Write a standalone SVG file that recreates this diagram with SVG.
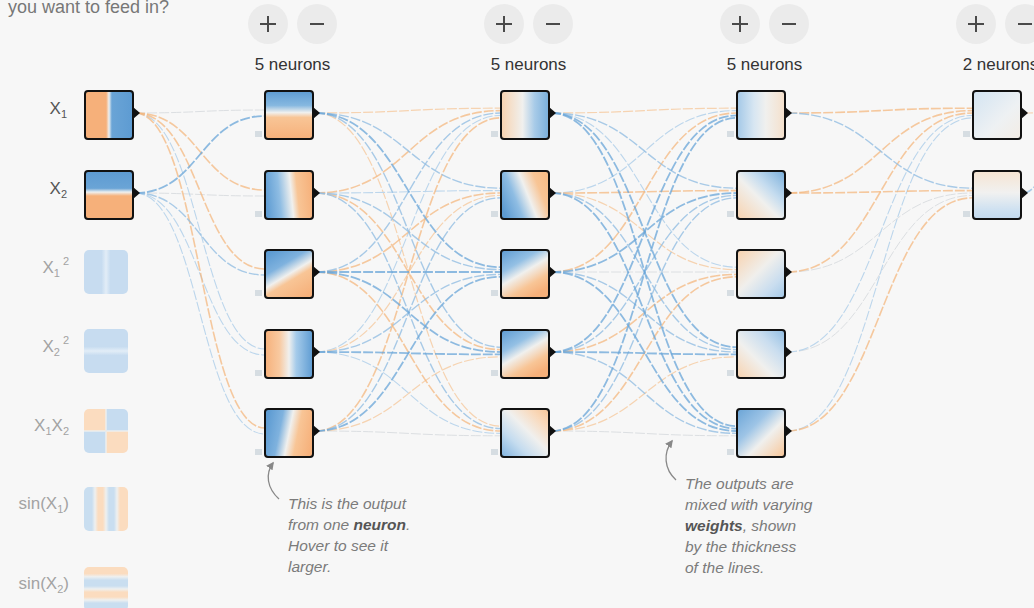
<svg xmlns="http://www.w3.org/2000/svg" width="1034" height="608" viewBox="0 0 1034 608">
<style>
.lk{fill:none;stroke-dasharray:10 2}
.b{stroke:#6aa6d8;stroke-width:1.8;stroke-opacity:.75}
.bm{stroke:#93bee2;stroke-width:1.4;stroke-opacity:.8}
.bl{stroke:#bcd6ec;stroke-width:1.1}
.o{stroke:#f4b57c;stroke-width:1.6;stroke-opacity:.72}
.ol{stroke:#f6d3b1;stroke-width:1.2}
.g{stroke:#dcdfe2;stroke-width:1}
.nd{stroke:#111;stroke-width:2}
.tri{fill:#111}
.bias{fill:#d6dde2}
.btn{fill:#ebebeb}
.sym{stroke:#4a4a4a;stroke-width:2;fill:none}
.hd{font-family:"Liberation Sans",Arial,sans-serif;font-size:17px;fill:#333;text-anchor:middle}
.lab{font-family:"Liberation Sans",Arial,sans-serif;font-size:17px;fill:#555;text-anchor:end}
.dis{fill:#a3a3a3}
.ann{font-family:"Liberation Sans",Arial,sans-serif;font-size:15.5px;font-style:italic;fill:#7b7b7b}
.bw{font-weight:bold;fill:#555}
.arr{fill:none;stroke:#888;stroke-width:1.3}
</style>
<defs>
<marker id="ah" viewBox="0 0 10 10" refX="8" refY="5" markerWidth="6" markerHeight="6" orient="auto"><path d="M0,0 L10,5 L0,10 Z" fill="#888"/></marker>
<linearGradient id="gX1" x1="0" y1="0" x2="1" y2="0"><stop offset="0" stop-color="#f6b07a"/><stop offset=".44" stop-color="#f6b07a"/><stop offset=".5" stop-color="#eef0f0"/><stop offset=".56" stop-color="#6aa4d6"/><stop offset="1" stop-color="#5d9bd2"/></linearGradient>
<linearGradient id="gX2" x1="0" y1="0" x2="0" y2="1"><stop offset="0" stop-color="#5d9bd2"/><stop offset=".36" stop-color="#6aa4d6"/><stop offset=".44" stop-color="#eef0f0"/><stop offset=".52" stop-color="#f6b07a"/><stop offset="1" stop-color="#f6b07a"/></linearGradient>
<linearGradient id="gA1" x1="0" y1="0" x2="0" y2="1"><stop offset="0" stop-color="#5d9bd2"/><stop offset=".3" stop-color="#86b8e0"/><stop offset=".45" stop-color="#f0f0ee"/><stop offset=".55" stop-color="#f8c596"/><stop offset="1" stop-color="#f6b07a"/></linearGradient>
<linearGradient id="gA2" x1="0" y1=".55" x2="1" y2=".45"><stop offset="0" stop-color="#5d9bd2"/><stop offset=".3" stop-color="#8fbde3"/><stop offset=".55" stop-color="#f0f0ee"/><stop offset=".68" stop-color="#f8c596"/><stop offset="1" stop-color="#f6b07a"/></linearGradient>
<linearGradient id="gA3" x1=".2" y1="0" x2=".8" y2="1"><stop offset="0" stop-color="#5d9bd2"/><stop offset=".3" stop-color="#7fb2de"/><stop offset=".5" stop-color="#f0f0ee"/><stop offset=".62" stop-color="#f8c596"/><stop offset="1" stop-color="#f6b07a"/></linearGradient>
<linearGradient id="gA4" x1="0" y1="0" x2="1" y2="0"><stop offset="0" stop-color="#f6b07a"/><stop offset=".3" stop-color="#f8c9a0"/><stop offset=".5" stop-color="#f0f0ee"/><stop offset=".65" stop-color="#a5cbea"/><stop offset="1" stop-color="#5d9bd2"/></linearGradient>
<linearGradient id="gA5" x1="0" y1=".4" x2="1" y2=".6"><stop offset="0" stop-color="#5d9bd2"/><stop offset=".3" stop-color="#7fb2de"/><stop offset=".5" stop-color="#f0f0ee"/><stop offset=".68" stop-color="#f8c596"/><stop offset="1" stop-color="#f6b07a"/></linearGradient>
<linearGradient id="gB1" x1="0" y1="0" x2="1" y2="0"><stop offset="0" stop-color="#f8d2ae"/><stop offset=".45" stop-color="#f0f0ee"/><stop offset=".7" stop-color="#a8cbe8"/><stop offset="1" stop-color="#78aedb"/></linearGradient>
<linearGradient id="gB2" x1="0" y1=".7" x2="1" y2=".3"><stop offset="0" stop-color="#5d9bd2"/><stop offset=".3" stop-color="#8fbde3"/><stop offset=".55" stop-color="#f0f0ee"/><stop offset=".8" stop-color="#f8c596"/><stop offset="1" stop-color="#f7bd88"/></linearGradient>
<linearGradient id="gB3" x1="0" y1="0" x2=".6" y2="1"><stop offset="0" stop-color="#5d9bd2"/><stop offset=".35" stop-color="#94c0e4"/><stop offset=".55" stop-color="#f0f0ee"/><stop offset=".8" stop-color="#f8c596"/><stop offset="1" stop-color="#f6b07a"/></linearGradient>
<linearGradient id="gB5" x1="0" y1="1" x2="1" y2="0"><stop offset="0" stop-color="#7fb2de"/><stop offset=".3" stop-color="#c5dcef"/><stop offset=".55" stop-color="#f0f0ee"/><stop offset=".8" stop-color="#f9d9bb"/><stop offset="1" stop-color="#f8c596"/></linearGradient>
<linearGradient id="gC1" x1="0" y1="0" x2="1" y2="0"><stop offset="0" stop-color="#a3c8e7"/><stop offset=".35" stop-color="#d7e6f2"/><stop offset=".6" stop-color="#f0f0ee"/><stop offset="1" stop-color="#f5e0cb"/></linearGradient>
<linearGradient id="gC2" x1="1" y1="0" x2="0" y2="1"><stop offset="0" stop-color="#78aedb"/><stop offset=".35" stop-color="#c5dcef"/><stop offset=".55" stop-color="#f0f0ee"/><stop offset="1" stop-color="#f8d2ae"/></linearGradient>
<linearGradient id="gC3" x1="0" y1="0" x2="1" y2="1"><stop offset="0" stop-color="#f8d2ae"/><stop offset=".45" stop-color="#f0efec"/><stop offset=".75" stop-color="#c9ddef"/><stop offset="1" stop-color="#a3c8e7"/></linearGradient>
<linearGradient id="gC4" x1="0" y1="1" x2="1" y2="0"><stop offset="0" stop-color="#f8d2ae"/><stop offset=".4" stop-color="#f0f0ee"/><stop offset=".7" stop-color="#c9ddef"/><stop offset="1" stop-color="#90bde3"/></linearGradient>
<linearGradient id="gC5" x1="0" y1="0" x2="1" y2="1"><stop offset="0" stop-color="#6aa4d6"/><stop offset=".35" stop-color="#9dc4e6"/><stop offset=".6" stop-color="#f0f0ee"/><stop offset="1" stop-color="#f8c596"/></linearGradient>
<linearGradient id="gD1" x1="0" y1="0" x2="1" y2="1"><stop offset="0" stop-color="#d3e4f2"/><stop offset=".6" stop-color="#eef1f3"/><stop offset="1" stop-color="#f3ece4"/></linearGradient>
<linearGradient id="gD2" x1="0" y1="0" x2="0" y2="1"><stop offset="0" stop-color="#f5e4d2"/><stop offset=".45" stop-color="#f1f1f0"/><stop offset=".8" stop-color="#cfe1f1"/><stop offset="1" stop-color="#c2d9ee"/></linearGradient>
<linearGradient id="gF1" x1="0" y1="0" x2="1" y2="0"><stop offset="0" stop-color="#c7dcf0"/><stop offset=".4" stop-color="#c7dcf0"/><stop offset=".5" stop-color="#e2edf7"/><stop offset=".6" stop-color="#c7dcf0"/><stop offset="1" stop-color="#c7dcf0"/></linearGradient>
<linearGradient id="gF2" x1="0" y1="0" x2="0" y2="1"><stop offset="0" stop-color="#c7dcf0"/><stop offset=".4" stop-color="#c7dcf0"/><stop offset=".5" stop-color="#e2edf7"/><stop offset=".6" stop-color="#c7dcf0"/><stop offset="1" stop-color="#c7dcf0"/></linearGradient>
<linearGradient id="gF4" x1="0" y1="0" x2="1" y2="0"><stop offset="0" stop-color="#c9def0"/><stop offset=".18" stop-color="#c9def0"/><stop offset=".25" stop-color="#eef0f0"/><stop offset=".32" stop-color="#fbdcbf"/><stop offset=".43" stop-color="#fbdcbf"/><stop offset=".5" stop-color="#eef0f0"/><stop offset=".57" stop-color="#c9def0"/><stop offset=".68" stop-color="#c9def0"/><stop offset=".75" stop-color="#eef0f0"/><stop offset=".82" stop-color="#fbdcbf"/><stop offset="1" stop-color="#fbdcbf"/></linearGradient>
<linearGradient id="gF5" x1="0" y1="0" x2="0" y2="1"><stop offset="0" stop-color="#fbdcbf"/><stop offset=".15" stop-color="#fbdcbf"/><stop offset=".22" stop-color="#eef0f0"/><stop offset=".3" stop-color="#c9def0"/><stop offset=".43" stop-color="#c9def0"/><stop offset=".5" stop-color="#eef0f0"/><stop offset=".57" stop-color="#fbdcbf"/><stop offset=".68" stop-color="#fbdcbf"/><stop offset=".75" stop-color="#eef0f0"/><stop offset=".82" stop-color="#c9def0"/><stop offset="1" stop-color="#c9def0"/></linearGradient>
<clipPath id="cpX"><rect x="84" y="409" width="44" height="44" rx="5"/></clipPath>
</defs>
<rect width="1034" height="608" fill="#f7f7f7"/>
<text x="8" y="13" font-family="Liberation Sans, Arial, sans-serif" font-size="18" fill="#777">you want to feed in?</text>

<g id="controls">
<circle class="btn" cx="268" cy="24" r="20"/><path class="sym" d="M260,24H276M268,16V32"/>
<circle class="btn" cx="317" cy="24" r="20"/><path class="sym" d="M310,24H324"/>
<circle class="btn" cx="504" cy="24" r="20"/><path class="sym" d="M496,24H512M504,16V32"/>
<circle class="btn" cx="553" cy="24" r="20"/><path class="sym" d="M546,24H560"/>
<circle class="btn" cx="740" cy="24" r="20"/><path class="sym" d="M732,24H748M740,16V32"/>
<circle class="btn" cx="789" cy="24" r="20"/><path class="sym" d="M782,24H796"/>
<circle class="btn" cx="976" cy="24" r="20"/><path class="sym" d="M968,24H984M976,16V32"/>
<circle class="btn" cx="1025" cy="24" r="20"/><path class="sym" d="M1018,24H1032"/>
<text class="hd" x="292.5" y="70">5 neurons</text>
<text class="hd" x="528.5" y="70">5 neurons</text>
<text class="hd" x="764.5" y="70">5 neurons</text>
<text class="hd" x="1000.5" y="70">2 neurons</text>
</g>

<g id="connectors">
<path class="lk g" d="M135,113C200,113 200,110 265,110"/>
<path class="lk g" d="M135,193C200,193 200,196 265,196"/>
<path class="lk bl" d="M135,113C200,113 200,349 265,349"/>
<path class="lk bl" d="M135,193C200,193 200,355 265,355"/>
<path class="lk bl" d="M135,193C200,193 200,434 265,434"/>
<path class="lk o" d="M135,113C200,113 200,190 265,190"/>
<path class="lk o" d="M135,113C200,113 200,269 265,269"/>
<path class="lk o" d="M135,113C200,113 200,428 265,428"/>
<path class="lk bm" d="M135,193C200,193 200,275 265,275"/>
<path class="lk b" d="M135,193C200,193 200,116 265,116"/>

<path class="lk g" d="M315,431C408,431 408,435.8 501,435.8"/>
<path class="lk ol" d="M315,113C408,113 408,108.2 501,108.2"/>
<path class="lk ol" d="M315,113C408,113 408,426.2 501,426.2"/>
<path class="lk bl" d="M315,193C408,193 408,190.6 501,190.6"/>
<path class="lk bl" d="M315,352C408,352 408,115.4 501,115.4"/>
<path class="lk ol" d="M315,352C408,352 408,195.4 501,195.4"/>
<path class="lk bl" d="M315,352C408,352 408,433.4 501,433.4"/>
<path class="lk ol" d="M315,431C408,431 408,356.8 501,356.8"/>
<path class="lk o" d="M315,193C408,193 408,110.6 501,110.6"/>
<path class="lk o" d="M315,193C408,193 408,349.6 501,349.6"/>
<path class="lk o" d="M315,272C408,272 408,193 501,193"/>
<path class="lk o" d="M315,272C408,272 408,431 501,431"/>
<path class="lk o" d="M315,431C408,431 408,117.8 501,117.8"/>
<path class="lk bm" d="M315,113C408,113 408,188.2 501,188.2"/>
<path class="lk bm" d="M315,113C408,113 408,347.2 501,347.2"/>
<path class="lk bm" d="M315,193C408,193 408,269.6 501,269.6"/>
<path class="lk bm" d="M315,193C408,193 408,428.6 501,428.6"/>
<path class="lk bm" d="M315,272C408,272 408,113 501,113"/>
<path class="lk bm" d="M315,352C408,352 408,274.4 501,274.4"/>
<path class="lk bm" d="M315,431C408,431 408,197.8 501,197.8"/>
<path class="lk b" d="M315,113C408,113 408,267.2 501,267.2"/>
<path class="lk b" d="M315,272C408,272 408,272 501,272"/>
<path class="lk b" d="M315,272C408,272 408,352 501,352"/>
<path class="lk b" d="M315,352C408,352 408,354.4 501,354.4"/>
<path class="lk b" d="M315,431C408,431 408,276.8 501,276.8"/>

<path class="lk g" d="M551,272C644,272 644,272 737,272"/>
<path class="lk g" d="M551,431C644,431 644,435.8 737,435.8"/>
<path class="lk ol" d="M551,113C644,113 644,108.2 737,108.2"/>
<path class="lk bl" d="M551,113C644,113 644,267.2 737,267.2"/>
<path class="lk bl" d="M551,193C644,193 644,110.6 737,110.6"/>
<path class="lk ol" d="M551,193C644,193 644,269.6 737,269.6"/>
<path class="lk ol" d="M551,431C644,431 644,356.8 737,356.8"/>
<path class="lk o" d="M551,193C644,193 644,190.6 737,190.6"/>
<path class="lk o" d="M551,272C644,272 644,113 737,113"/>
<path class="lk o" d="M551,352C644,352 644,274.4 737,274.4"/>
<path class="lk o" d="M551,431C644,431 644,276.8 737,276.8"/>
<path class="lk bm" d="M551,113C644,113 644,188.2 737,188.2"/>
<path class="lk bm" d="M551,193C644,193 644,349.6 737,349.6"/>
<path class="lk bm" d="M551,272C644,272 644,352 737,352"/>
<path class="lk bm" d="M551,352C644,352 644,195.4 737,195.4"/>
<path class="lk bm" d="M551,352C644,352 644,433.4 737,433.4"/>
<path class="lk bm" d="M551,431C644,431 644,197.8 737,197.8"/>
<path class="lk b" d="M551,113C644,113 644,347.2 737,347.2"/>
<path class="lk b" d="M551,113C644,113 644,426.2 737,426.2"/>
<path class="lk b" d="M551,193C644,193 644,428.6 737,428.6"/>
<path class="lk b" d="M551,272C644,272 644,193 737,193"/>
<path class="lk b" d="M551,272C644,272 644,431 737,431"/>
<path class="lk b" d="M551,352C644,352 644,115.4 737,115.4"/>
<path class="lk b" d="M551,352C644,352 644,354.4 737,354.4"/>
<path class="lk b" d="M551,431C644,431 644,117.8 737,117.8"/>

<path class="lk g" d="M787,272C880,272 880,193 973,193"/>
<path class="lk g" d="M787,352C880,352 880,195.4 973,195.4"/>
<path class="lk bl" d="M787,352C880,352 880,115.4 973,115.4"/>
<path class="lk bl" d="M787,431C880,431 880,117.8 973,117.8"/>
<path class="lk o" d="M787,113C880,113 880,108.2 973,108.2"/>
<path class="lk o" d="M787,193C880,193 880,110.6 973,110.6"/>
<path class="lk o" d="M787,193C880,193 880,190.6 973,190.6"/>
<path class="lk o" d="M787,272C880,272 880,113 973,113"/>
<path class="lk o" d="M787,431C880,431 880,197.8 973,197.8"/>
<path class="lk bm" d="M787,113C880,113 880,188.2 973,188.2"/>

<path class="lk ol" d="M1023,113C1030,113 1034,113 1040,112"/>
<path class="lk bm" d="M1023,193C1030,193 1033,188 1040,180"/>
</g>

<g id="in-x1"><text class="lab" x="67" y="114">X<tspan font-size="11" dy="4">1</tspan></text><rect class="nd" x="85" y="91" width="48" height="48" rx="3" fill="url(#gX1)"/><path class="tri" d="M133,107L140,113L133,119Z"/></g>
<g id="in-x2"><text class="lab" x="67" y="194">X<tspan font-size="11" dy="4">2</tspan></text><rect class="nd" x="85" y="171" width="48" height="48" rx="3" fill="url(#gX2)"/><path class="tri" d="M133,187L140,193L133,199Z"/></g>
<g id="in-x1sq"><text class="lab dis" x="69" y="273">X<tspan font-size="11" dy="4">1</tspan><tspan font-size="11" dx="3" dy="-12">2</tspan></text><rect x="84" y="250" width="44" height="44" rx="5" fill="url(#gF1)"/></g>
<g id="in-x2sq"><text class="lab dis" x="69" y="352">X<tspan font-size="11" dy="4">2</tspan><tspan font-size="11" dx="3" dy="-12">2</tspan></text><rect x="84" y="329" width="44" height="44" rx="5" fill="url(#gF2)"/></g>
<g id="in-x1x2"><text class="lab dis" x="69" y="431">X<tspan font-size="11" dy="4">1</tspan><tspan dy="-4">X</tspan><tspan font-size="11" dy="4">2</tspan></text>
<g clip-path="url(#cpX)"><rect x="84" y="409" width="22" height="22" fill="#fbdcbf"/><rect x="106" y="409" width="22" height="22" fill="#c6dcf0"/><rect x="84" y="431" width="22" height="22" fill="#c6dcf0"/><rect x="106" y="431" width="22" height="22" fill="#fbdcbf"/><path d="M106,409V453M84,431H128" stroke="#eef0f0" stroke-width="2" opacity=".7"/></g></g>
<g id="in-sinx1"><text class="lab dis" x="69" y="509">sin(X<tspan font-size="11" dy="4">1</tspan><tspan dy="-4">)</tspan></text><rect x="84" y="487" width="44" height="44" rx="5" fill="url(#gF4)"/></g>
<g id="in-sinx2"><text class="lab dis" x="69" y="589">sin(X<tspan font-size="11" dy="4">2</tspan><tspan dy="-4">)</tspan></text><rect x="84" y="567" width="44" height="44" rx="5" fill="url(#gF5)"/></g>

<g id="h1n1"><rect class="bias" x="255" y="131" width="7" height="6"/><rect class="nd" x="265" y="91" width="48" height="48" rx="3" fill="url(#gA1)"/><path class="tri" d="M313,107L320,113L313,119Z"/></g>
<g id="h1n2"><rect class="bias" x="255" y="211" width="7" height="6"/><rect class="nd" x="265" y="171" width="48" height="48" rx="3" fill="url(#gA2)"/><path class="tri" d="M313,187L320,193L313,199Z"/></g>
<g id="h1n3"><rect class="bias" x="255" y="290" width="7" height="6"/><rect class="nd" x="265" y="250" width="48" height="48" rx="3" fill="url(#gA3)"/><path class="tri" d="M313,266L320,272L313,278Z"/></g>
<g id="h1n4"><rect class="bias" x="255" y="370" width="7" height="6"/><rect class="nd" x="265" y="330" width="48" height="48" rx="3" fill="url(#gA4)"/><path class="tri" d="M313,346L320,352L313,358Z"/></g>
<g id="h1n5"><rect class="bias" x="255" y="449" width="7" height="6"/><rect class="nd" x="265" y="409" width="48" height="48" rx="3" fill="url(#gA5)"/><path class="tri" d="M313,425L320,431L313,437Z"/></g>

<g id="h2n1"><rect class="bias" x="491" y="131" width="7" height="6"/><rect class="nd" x="501" y="91" width="48" height="48" rx="3" fill="url(#gB1)"/><path class="tri" d="M549,107L556,113L549,119Z"/></g>
<g id="h2n2"><rect class="bias" x="491" y="211" width="7" height="6"/><rect class="nd" x="501" y="171" width="48" height="48" rx="3" fill="url(#gB2)"/><path class="tri" d="M549,187L556,193L549,199Z"/></g>
<g id="h2n3"><rect class="bias" x="491" y="290" width="7" height="6"/><rect class="nd" x="501" y="250" width="48" height="48" rx="3" fill="url(#gB3)"/><path class="tri" d="M549,266L556,272L549,278Z"/></g>
<g id="h2n4"><rect class="bias" x="491" y="370" width="7" height="6"/><rect class="nd" x="501" y="330" width="48" height="48" rx="3" fill="url(#gB3)"/><path class="tri" d="M549,346L556,352L549,358Z"/></g>
<g id="h2n5"><rect class="bias" x="491" y="449" width="7" height="6"/><rect class="nd" x="501" y="409" width="48" height="48" rx="3" fill="url(#gB5)"/><path class="tri" d="M549,425L556,431L549,437Z"/></g>

<g id="h3n1"><rect class="bias" x="727" y="131" width="7" height="6"/><rect class="nd" x="737" y="91" width="48" height="48" rx="3" fill="url(#gC1)"/><path class="tri" d="M785,107L792,113L785,119Z"/></g>
<g id="h3n2"><rect class="bias" x="727" y="211" width="7" height="6"/><rect class="nd" x="737" y="171" width="48" height="48" rx="3" fill="url(#gC2)"/><path class="tri" d="M785,187L792,193L785,199Z"/></g>
<g id="h3n3"><rect class="bias" x="727" y="290" width="7" height="6"/><rect class="nd" x="737" y="250" width="48" height="48" rx="3" fill="url(#gC3)"/><path class="tri" d="M785,266L792,272L785,278Z"/></g>
<g id="h3n4"><rect class="bias" x="727" y="370" width="7" height="6"/><rect class="nd" x="737" y="330" width="48" height="48" rx="3" fill="url(#gC4)"/><path class="tri" d="M785,346L792,352L785,358Z"/></g>
<g id="h3n5"><rect class="bias" x="727" y="449" width="7" height="6"/><rect class="nd" x="737" y="409" width="48" height="48" rx="3" fill="url(#gC5)"/><path class="tri" d="M785,425L792,431L785,437Z"/></g>

<g id="h4n1"><rect class="bias" x="963" y="131" width="7" height="6"/><rect class="nd" x="973" y="91" width="48" height="48" rx="3" fill="url(#gD1)"/><path class="tri" d="M1021,107L1028,113L1021,119Z"/></g>
<g id="h4n2"><rect class="bias" x="963" y="211" width="7" height="6"/><rect class="nd" x="973" y="171" width="48" height="48" rx="3" fill="url(#gD2)"/><path class="tri" d="M1021,187L1028,193L1021,199Z"/></g>

<g id="note-neuron">
<path class="arr" d="M279,499C267,488 265,474 273,463" marker-end="url(#ah)"/>
<text class="ann" x="288" y="509">This is the output</text>
<text class="ann" x="288" y="530">from one <tspan class="bw">neuron</tspan>.</text>
<text class="ann" x="288" y="551">Hover to see it</text>
<text class="ann" x="288" y="572">larger.</text>
</g>
<g id="note-weights">
<path class="arr" d="M676,480C664,469 663,453 672,441" marker-end="url(#ah)"/>
<text class="ann" x="685" y="489">The outputs are</text>
<text class="ann" x="685" y="510">mixed with varying</text>
<text class="ann" x="685" y="531"><tspan class="bw">weights</tspan>, shown</text>
<text class="ann" x="685" y="552">by the thickness</text>
<text class="ann" x="685" y="573">of the lines.</text>
</g>
</svg>
